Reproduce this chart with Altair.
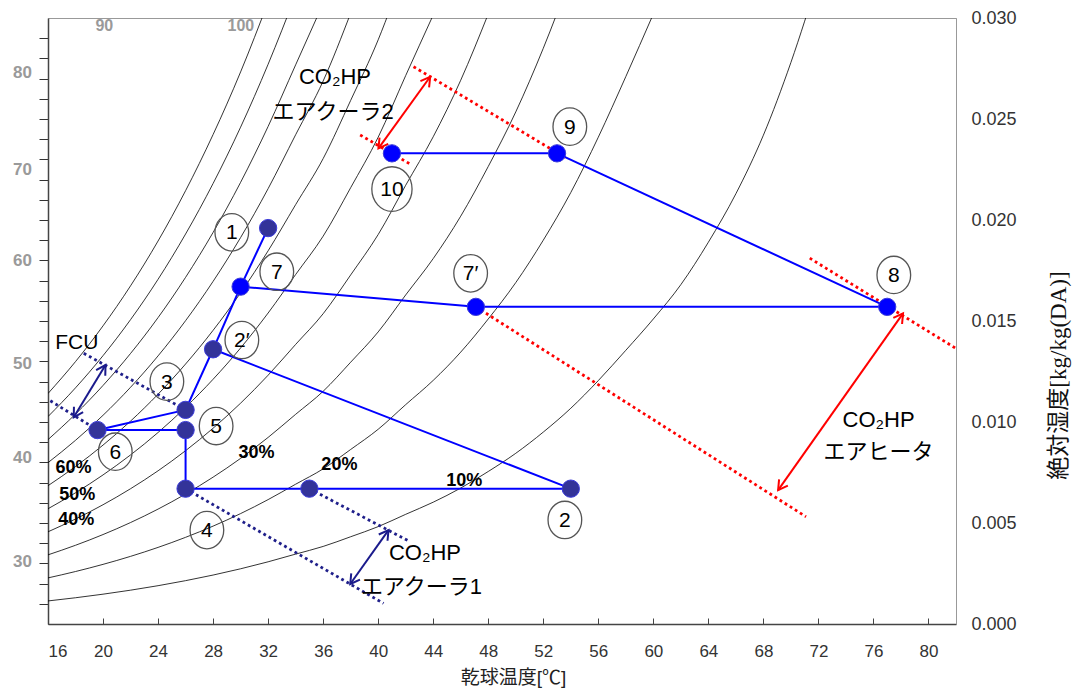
import math
import altair as alt
import pandas as pd

# ---------------------------------------------------------------- frame
T_MIN, T_MAX = 16, 82          # dry-bulb temperature [°C]
W_MIN, W_MAX = 0.0, 0.030      # humidity ratio [kg/kg(DA)]
PLOT_W, PLOT_H = 908, 606

# saturation humidity ratio along the dry-bulb grid [kg/kg(DA)]
sat_temp = [16, 18, 20, 22, 24, 26, 28, 30, 32, 34, 36, 38, 40, 42, 44,
            46, 48, 50, 52, 54, 56, 58, 60, 62, 64, 66, 68, 70, 72]
sat_hum = [0.01141, 0.01299, 0.01476, 0.01674, 0.01896, 0.02145, 0.02423,
           0.02733, 0.03079, 0.0346, 0.0384, 0.0432, 0.0482, 0.0543, 0.0603,
           0.0673, 0.0755, 0.0845, 0.0950, 0.1068, 0.1205, 0.1355, 0.1510,
           0.1680, 0.1890, 0.2130, 0.2420, 0.2780, 0.3200]
# percentage humidity curves [%]
pct_levels = [10, 20, 30, 40, 50, 60, 70, 80, 90, 100]

# ---------------------------------------------------------------- state points
pt_name = ["1", "7", "2′", "5a", "5", "6", "4", "c1", "2", "7′", "8", "9", "10"]
pt_temp = [32.0, 30.0, 28.0, 26.0, 26.0, 19.6, 26.0, 35.0, 54.0, 47.1, 77.0, 53.0, 41.0]
pt_hum = [0.0196, 0.0167, 0.0136, 0.0106, 0.0096, 0.0096, 0.0067, 0.0067,
          0.0067, 0.0157, 0.0157, 0.0233, 0.0233]
pt_fill = ["#333399", "#0000ff", "#333399", "#333399", "#333399", "#333399",
           "#333399", "#333399", "#333399", "#0000ff", "#0000ff", "#0000ff", "#0000ff"]

# air-handling process paths between state points
path_pairs = [("1", "7"), ("7", "2′"), ("2′", "5a"), ("5a", "6"), ("6", "5"),
              ("5", "4"), ("4", "c1"), ("c1", "2"), ("2", "2′"),
              ("7", "7′"), ("7′", "8"), ("8", "9"), ("9", "10")]

# circled point numbers
lbl_text = ["1", "7", "2′", "3", "5", "6", "4", "2", "7′", "8", "9", "10"]
lbl_temp = [29.36, 32.63, 30.09, 24.64, 28.22, 20.89, 27.55, 53.57, 46.72, 77.48, 53.93, 41.0]
lbl_hum = [0.01939, 0.01744, 0.01406, 0.0120, 0.0098, 0.00853, 0.00465,
           0.00515, 0.01736, 0.01728, 0.02462, 0.02153]
lbl_big = [False] * 11 + [True]

# dotted enthalpy guides of each coil: start and end
guide_color = ["#ff0000", "#ff0000", "#ff0000", "#ff0000",
               "#1f1f8a", "#1f1f8a", "#1f1f8a", "#1f1f8a"]
guide_t0 = [47.1, 71.37, 42.57, 38.69, 18.6, 16.17, 26.0, 35.0]
guide_w0 = [0.0157, 0.01811, 0.02759, 0.02421, 0.0134, 0.01105, 0.0067, 0.0067]
guide_t1 = [71.1, 82.0, 53.65, 42.45, 26.0, 19.6, 40.39, 42.33]
guide_w1 = [0.00531, 0.01364, 0.02307, 0.02272, 0.0106, 0.0096, 0.00102, 0.00407]

# double-headed arrows spanning each coil
arrow_color = ["#ff0000", "#ff0000", "#1a1a8c", "#1a1a8c"]
arrow_t0 = [78.15, 43.78, 40.75, 20.18]
arrow_w0 = [0.01538, 0.02709, 0.00465, 0.01282]
arrow_t1 = [69.07, 40.02, 37.97, 17.87]
arrow_w1 = [0.00663, 0.02355, 0.00198, 0.01023]

# equipment captions
cap_text = ["CO₂HP", "エアクーラ2", "CO₂HP", "エアヒータ", "CO₂HP", "エアクーラ1"]
cap_temp = [36.86, 36.72, 76.37, 76.37, 43.4, 43.15]
cap_hum = [0.02708, 0.02535, 0.0101, 0.00851, 0.00351, 0.00183]

# curve captions
pct_text = ["60%", "50%", "40%", "30%", "20%", "10%"]
pct_temp = [17.86, 18.13, 18.06, 31.15, 37.18, 46.25]
pct_hum = [0.00774, 0.00639, 0.00515, 0.00845, 0.00787, 0.00709]

# enthalpy scale figures on the left and top edges
h_left_text = ["80", "70", "60", "50", "40", "30"]
h_left_hum = [0.02726, 0.02248, 0.01797, 0.01286, 0.0082, 0.00308]
h_top_text = ["90", "100"]
h_top_temp = [20.09, 30.02]

x_ticks = list(range(16, 81, 4))
w_labels = [0.0, 0.005, 0.010, 0.015, 0.020, 0.025, 0.030]
w_minor = [round(0.001 * k, 3) for k in range(1, 30)]

LAT = "Liberation Sans"
JP = "Liberation Sans, Noto Sans CJK JP"
SERIF_JP = "Liberation Serif, Noto Sans CJK JP"

# ---------------------------------------------------------------- tables
rows = []
for p in pct_levels:
    for t, ws in zip(sat_temp, sat_hum):
        w = p / 100 * ws
        rows.append({"pct": p, "T": t, "W": w})
        if w > W_MAX:
            break
curve_df = pd.DataFrame(rows)

pts = {n: (t, w) for n, t, w in zip(pt_name, pt_temp, pt_hum)}
point_df = pd.DataFrame({"name": pt_name, "T": pt_temp, "W": pt_hum, "fill": pt_fill})

rows = []
for i, (a, b) in enumerate(path_pairs):
    for k, n in enumerate((a, b)):
        rows.append({"seg": i, "ord": k, "T": pts[n][0], "W": pts[n][1]})
path_df = pd.DataFrame(rows)

rows = []
for i in range(len(guide_t0)):
    rows.append({"g": i, "ord": 0, "T": guide_t0[i], "W": guide_w0[i], "c": guide_color[i]})
    rows.append({"g": i, "ord": 1, "T": guide_t1[i], "W": guide_w1[i], "c": guide_color[i]})
guide_df = pd.DataFrame(rows)

px_t = PLOT_W / (T_MAX - T_MIN)
px_w = PLOT_H / (W_MAX - W_MIN)
shaft_rows, head_rows = [], []
for i in range(len(arrow_t0)):
    a = (arrow_t0[i], arrow_w0[i])
    b = (arrow_t1[i], arrow_w1[i])
    shaft_rows.append({"a": i, "ord": 0, "T": a[0], "W": a[1], "c": arrow_color[i]})
    shaft_rows.append({"a": i, "ord": 1, "T": b[0], "W": b[1], "c": arrow_color[i]})
    for tip, tail in ((a, b), (b, a)):
        dx = (tip[0] - tail[0]) * px_t
        dy_up = (tip[1] - tail[1]) * px_w
        ang = math.degrees(math.atan2(dx, dy_up)) % 360
        head_rows.append({"T": tip[0], "W": tip[1], "angle": ang, "c": arrow_color[i]})
shaft_df = pd.DataFrame(shaft_rows)
head_df = pd.DataFrame(head_rows)

label_df = pd.DataFrame({"text": lbl_text, "T": lbl_temp, "W": lbl_hum, "big": lbl_big})
cap_df = pd.DataFrame({"text": cap_text, "T": cap_temp, "W": cap_hum})
pct_df = pd.DataFrame({"text": pct_text, "T": pct_temp, "W": pct_hum})
hleft_df = pd.DataFrame({"text": h_left_text, "T": [14.84] * len(h_left_text), "W": h_left_hum})
htop_df = pd.DataFrame({"text": h_top_text, "T": h_top_temp, "W": [0.0296] * len(h_top_text)})
fcu_df = pd.DataFrame({"text": ["FCU"], "T": [16.53], "W": [0.01391]})

# ---------------------------------------------------------------- encodings
xs = alt.Scale(domain=[T_MIN, T_MAX], nice=False, zero=False)
ys = alt.Scale(domain=[W_MIN, W_MAX], nice=False, zero=False)
X0 = alt.X("T:Q", scale=xs, axis=None)
Y0 = alt.Y("W:Q", scale=ys, axis=None)

curves = alt.Chart(curve_df).mark_line(
    color="black", strokeWidth=0.8, clip=True, interpolate="monotone"
).encode(
    x=alt.X("T:Q", scale=xs, axis=alt.Axis(
        orient="bottom", values=x_ticks, ticks=False, tickSize=0, grid=False,
        labelFont=LAT, labelFontSize=17, labelColor="#333333", labelPadding=19,
        domainColor="#444444", domainWidth=1.5,
        title="乾球温度[℃]", titleFont=JP, titleFontSize=19, titleFontWeight="normal",
        titleColor="#222222", titleX=465, titleY=53, titleAlign="center",
        titleBaseline="middle")),
    y=alt.Y("W:Q", scale=ys, axis=alt.Axis(
        orient="left", values=w_minor, labels=False, ticks=True, tickSize=9,
        tickColor="#333333", domainColor="#444444", domainWidth=1.5, grid=False,
        title=None)),
    detail="pct:N",
    order="T:Q",
)

guides = alt.Chart(guide_df).mark_line(strokeWidth=2.8, strokeDash=[2.8, 3.2]).encode(
    x=X0, y=Y0, detail="g:N", order="ord:Q",
    color=alt.Color("c:N", scale=None),
)

shafts = alt.Chart(shaft_df).mark_line(strokeWidth=2).encode(
    x=X0, y=Y0, detail="a:N", order="ord:Q",
    color=alt.Color("c:N", scale=None),
)

heads = alt.Chart(head_df).mark_point(
    shape="M -0.55 0.95 L 0 0 L 0.55 0.95", size=380, filled=False,
    strokeWidth=2, opacity=1
).encode(
    x=X0, y=Y0,
    angle=alt.Angle("angle:Q", scale=None),
    color=alt.Color("c:N", scale=None),
)

paths = alt.Chart(path_df).mark_line(color="#0000ff", strokeWidth=2).encode(
    x=alt.X("T:Q", scale=xs, axis=alt.Axis(
        orient="top", offset=-PLOT_H, values=x_ticks, labels=False, domain=False,
        ticks=True, tickSize=6, tickColor="#444444", grid=False, title=None)),
    y=alt.Y("W:Q", scale=ys, axis=alt.Axis(
        orient="right", values=w_labels, format=".3f", ticks=False, tickSize=0,
        grid=False, labelFont=LAT, labelFontSize=18, labelColor="#333333",
        labelPadding=15, domainColor="#999999",
        title="絶対湿度[kg/kg(DA)]", titleFont=SERIF_JP, titleFontSize=23,
        titleFontWeight="normal", titleColor="#111111", titleAngle=270,
        titleX=102, titleY=357, titleAlign="center", titleBaseline="middle")),
    detail="seg:N", order="ord:Q",
)

markers = alt.Chart(point_df).mark_circle(
    size=300, opacity=1, stroke="#3b3bd9", strokeWidth=1
).encode(
    x=X0, y=Y0, color=alt.Color("fill:N", scale=None),
)

ELLIPSE = "M -0.9 0 A 0.9 1 0 1 1 0.9 0 A 0.9 1 0 1 1 -0.9 0 Z"
rings_small = alt.Chart(label_df).transform_filter("!datum.big").mark_point(
    shape=ELLIPSE, size=1400, filled=False, stroke="#555555", strokeWidth=1.3, opacity=1
).encode(x=X0, y=Y0)
rings_big = alt.Chart(label_df).transform_filter("datum.big").mark_point(
    shape=ELLIPSE, size=2000, filled=False, stroke="#555555", strokeWidth=1.3, opacity=1
).encode(x=X0, y=Y0)
numbers = alt.Chart(label_df).mark_text(
    font=LAT, fontSize=21, color="black", baseline="middle", align="center", dy=1
).encode(x=X0, y=Y0, text="text:N")

captions = alt.Chart(cap_df).mark_text(
    font=JP, fontSize=22, color="black", baseline="middle", align="center"
).encode(x=X0, y=Y0, text="text:N")

fcu = alt.Chart(fcu_df).mark_text(
    font=LAT, fontSize=21, color="black", baseline="middle", align="left"
).encode(x=X0, y=Y0, text="text:N")

pct_marks = alt.Chart(pct_df).mark_text(
    font=LAT, fontSize=18, fontWeight="bold", color="black",
    baseline="middle", align="center"
).encode(x=X0, y=Y0, text="text:N")

h_left = alt.Chart(hleft_df).mark_text(
    font=LAT, fontSize=17, fontWeight="bold", color="#9a9a9a",
    baseline="middle", align="right"
).encode(x=X0, y=Y0, text="text:N")

h_top = alt.Chart(htop_df).mark_text(
    font=LAT, fontSize=16, fontWeight="bold", color="#9a9a9a",
    baseline="middle", align="center"
).encode(x=X0, y=Y0, text="text:N")

chart = alt.layer(
    curves, guides, shafts, heads, paths, markers,
    rings_small, rings_big, numbers, captions, fcu, pct_marks, h_left, h_top,
).resolve_axis(
    x="independent", y="independent"
).properties(
    width=PLOT_W, height=PLOT_H,
    autosize=alt.AutoSizeParams(type="none"),
    padding={"left": 48, "top": 18, "right": 117, "bottom": 69},
    background="white",
).configure_view(
    stroke="#999999", strokeWidth=1
)

chart.save("out.html", embed_options={"renderer": "svg", "actions": False})
